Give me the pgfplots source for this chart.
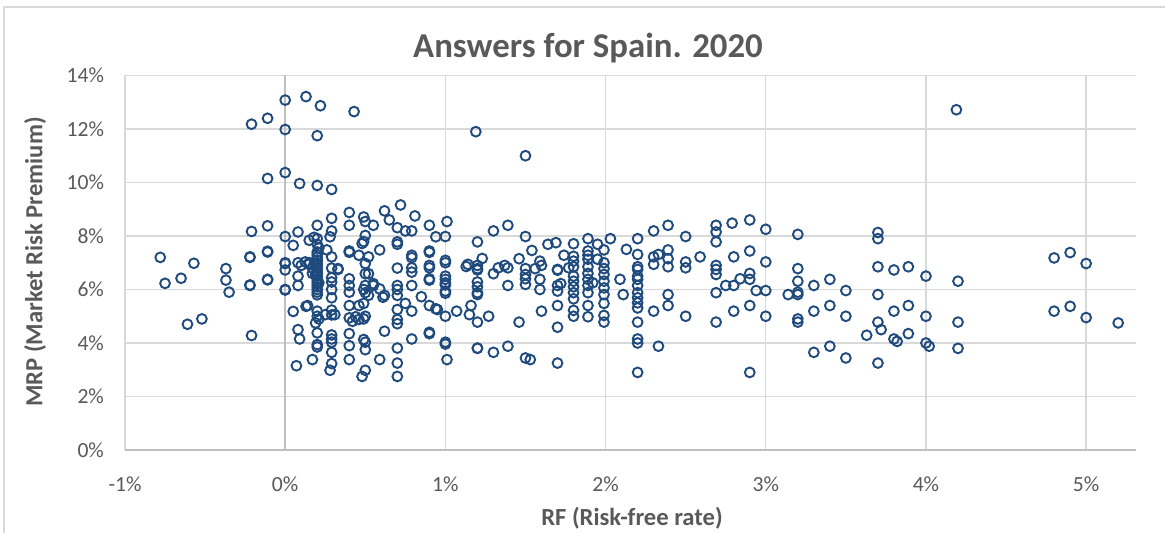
\documentclass[border=0pt]{standalone}
\usepackage{fontspec}
\setmainfont{Carlito}
\usepackage{pgfplots}
\pgfplotsset{compat=1.18}
\definecolor{mk}{HTML}{1F4A7E}
\definecolor{txt}{HTML}{595959}
\definecolor{grd}{HTML}{D9D9D9}
\definecolor{axl}{HTML}{BFBFBF}
\begin{document}
\begin{tikzpicture}
\begin{axis}[
  at={(62.5pt,41.5pt)}, anchor=south west,
  scale only axis, width=505.4pt, height=187.25pt,
  xmin=-1, xmax=5.31, ymin=0, ymax=14,
  xtick={-1,0,1,2,3,4,5},
  xticklabels={{-1\%},{0\%},{1\%},{2\%},{3\%},{4\%},{5\%}},
  ytick={0,2,4,6,8,10,12,14},
  yticklabels={{0\%},{2\%},{4\%},{6\%},{8\%},{10\%},{12\%},{14\%}},
  xmajorgrids, ymajorgrids,
  grid style={grd, line width=0.7pt},
  axis line style={draw=none},
  major tick length=0pt,
  ticklabel style={font=\fontsize{10.8}{12}\selectfont, text=txt},
  xticklabel style={yshift=-10pt},
  yticklabel style={xshift=-7pt},
  clip=false,
]
\draw[axl, line width=0.8pt] (axis cs:-1,0) -- (axis cs:5.31,0);
\draw[axl, line width=0.8pt] (axis cs:0,0) -- (axis cs:0,14);
\addplot[only marks, mark=o, mark size=2.45pt, mk, line width=0.95pt] table {
x y
-0.78 7.2
-0.75 6.23
-0.65 6.42
-0.57 6.98
-0.61 4.7
-0.52 4.9
-0.37 6.78
-0.37 6.35
-0.35 5.9
-0.22 7.2
-0.22 7.22
-0.22 6.15
-0.22 6.17
-0.21 8.17
-0.21 4.28
-0.21 12.18
-0.11 12.4
-0.11 10.15
-0.11 8.38
-0.11 7.4
-0.11 7.43
-0.11 6.36
-0.11 6.38
0.0 13.08
0.0 11.98
0.0 10.37
0.0 7.98
0.0 7.0
0.0 6.97
0.0 6.73
0.0 6.0
0.0 5.98
0.05 7.65
0.05 5.18
0.08 8.15
0.08 7.0
0.08 6.5
0.08 6.15
0.08 4.5
0.09 4.15
0.09 9.96
0.07 3.15
0.1 6.9
0.125 7.03
0.13 13.21
0.13 5.37
0.15 7.84
0.15 7.0
0.15 6.95
0.14 5.4
0.17 3.38
0.17 6.8
0.17 6.6
0.18 7.95
0.22 12.87
0.2 11.75
0.2 9.89
0.2 8.4
0.2 7.9
0.2 7.69
0.2 7.4
0.2 7.3
0.2 7.2
0.2 7.1
0.2 7.0
0.2 6.9
0.2 6.8
0.2 6.7
0.2 6.6
0.2 6.5
0.2 6.4
0.2 6.3
0.2 6.2
0.2 6.1
0.2 6.0
0.2 5.9
0.2 5.8
0.19 6.55
0.21 6.25
0.19 6.95
0.21 7.55
0.2 5.19
0.2 5.0
0.21 4.9
0.19 4.75
0.2 4.38
0.2 3.94
0.2 3.85
0.25 5.06
0.26 7.48
0.28 7.97
0.29 9.74
0.29 8.66
0.29 8.19
0.29 7.22
0.29 6.8
0.29 6.44
0.29 6.28
0.29 6.0
0.29 5.69
0.29 5.23
0.29 5.05
0.29 4.3
0.29 4.15
0.29 4.03
0.29 3.65
0.29 3.23
0.28 2.98
0.31 5.06
0.33 6.78
0.33 6.75
0.4 8.88
0.4 8.4
0.4 7.44
0.4 7.39
0.4 6.4
0.4 6.15
0.4 5.9
0.4 5.4
0.4 4.94
0.4 4.35
0.4 3.9
0.4 3.38
0.42 4.81
0.43 12.65
0.44 4.98
0.46 7.28
0.46 5.4
0.46 4.88
0.48 7.72
0.48 2.75
0.49 8.71
0.49 7.79
0.49 6.0
0.49 5.48
0.49 4.9
0.49 4.13
0.5 8.54
0.5 8.02
0.5 6.97
0.5 6.59
0.5 6.15
0.5 5.88
0.5 5.0
0.5 4.03
0.5 3.75
0.5 2.98
0.52 7.22
0.52 6.59
0.52 5.78
0.55 8.4
0.55 6.15
0.55 6.22
0.59 7.48
0.59 6.02
0.59 3.38
0.61 5.71
0.62 8.94
0.62 5.78
0.62 4.44
0.65 8.6
0.7 8.31
0.7 7.78
0.7 7.69
0.7 6.8
0.7 6.15
0.7 6.0
0.7 5.78
0.7 5.25
0.7 4.88
0.7 4.72
0.7 3.81
0.7 3.25
0.7 2.75
0.72 9.16
0.75 8.19
0.75 5.48
0.79 8.19
0.81 8.75
0.79 7.28
0.79 7.19
0.79 6.81
0.79 6.65
0.79 6.15
0.79 5.19
0.79 4.15
0.85 5.73
0.9 8.4
0.9 7.44
0.9 7.39
0.9 6.9
0.9 6.81
0.9 6.4
0.9 6.35
0.9 5.4
0.9 4.4
0.9 4.35
0.94 7.97
0.94 5.28
0.95 5.25
1.01 8.54
1.0 7.98
1.0 7.09
1.0 7.0
1.0 6.5
1.0 6.38
1.0 6.25
1.0 6.17
1.0 5.94
1.0 5.86
1.0 5.0
1.0 4.03
1.0 3.96
1.01 3.38
1.07 5.19
1.13 6.86
1.14 6.94
1.15 5.06
1.16 5.4
1.19 11.9
1.2 7.78
1.2 6.9
1.2 6.78
1.2 6.73
1.2 6.28
1.2 6.1
1.2 5.88
1.2 5.81
1.2 4.78
1.2 3.81
1.2 3.8
1.23 7.16
1.27 5.0
1.3 8.19
1.3 6.59
1.3 3.65
1.33 6.81
1.37 6.9
1.39 8.4
1.39 6.81
1.39 6.15
1.39 3.88
1.46 7.15
1.46 4.78
1.5 11.0
1.5 7.98
1.5 6.78
1.5 6.56
1.5 6.4
1.5 6.19
1.5 3.44
1.53 3.38
1.54 7.46
1.56 6.78
1.59 7.06
1.6 6.9
1.59 6.38
1.59 6.0
1.6 5.19
1.64 7.69
1.69 7.75
1.7 6.75
1.7 6.72
1.7 6.15
1.7 5.94
1.7 5.4
1.7 4.59
1.7 3.25
1.72 6.22
1.74 7.28
1.8 7.71
1.8 7.24
1.8 7.06
1.8 6.85
1.8 6.5
1.8 6.31
1.8 6.1
1.8 5.88
1.8 5.65
1.8 5.22
1.8 5.0
1.77 6.81
1.89 7.9
1.89 7.44
1.89 7.28
1.89 7.13
1.89 6.85
1.89 6.6
1.89 6.38
1.89 6.15
1.89 5.88
1.89 5.4
1.89 4.98
1.92 6.25
1.95 7.69
1.95 7.13
1.99 7.48
1.99 7.0
1.99 6.78
1.99 6.56
1.99 6.31
1.99 6.06
1.99 5.81
1.99 5.48
1.99 5.03
1.99 4.78
2.03 7.9
2.09 6.38
2.11 5.81
2.13 7.5
2.2 7.9
2.2 7.31
2.2 6.85
2.2 6.75
2.2 6.5
2.2 6.38
2.2 6.15
2.2 5.88
2.2 5.69
2.2 5.5
2.2 5.31
2.2 4.78
2.2 4.15
2.2 4.0
2.2 2.9
2.3 8.19
2.3 7.22
2.33 7.31
2.3 6.94
2.3 5.19
2.33 3.88
2.39 8.4
2.39 7.48
2.39 7.15
2.39 6.85
2.39 5.81
2.39 5.4
2.5 7.98
2.5 7.03
2.5 6.81
2.5 5.0
2.59 7.22
2.69 8.4
2.69 8.15
2.69 7.78
2.69 6.9
2.69 6.75
2.69 6.56
2.69 5.88
2.69 4.78
2.75 6.15
2.79 8.48
2.8 7.22
2.8 6.15
2.8 5.19
2.84 6.4
2.9 8.6
2.9 7.44
2.9 6.6
2.9 6.38
2.9 5.4
2.9 2.9
2.94 5.96
3.0 8.25
3.0 7.03
3.0 5.96
3.0 5.0
3.14 5.81
3.2 8.06
3.2 6.78
3.2 6.31
3.2 5.9
3.2 5.81
3.2 4.9
3.2 4.78
3.3 6.15
3.3 5.19
3.3 3.65
3.4 6.38
3.4 5.4
3.4 3.88
3.5 5.96
3.5 5.0
3.5 3.44
3.63 4.29
3.7 8.13
3.7 7.9
3.7 6.85
3.7 5.81
3.7 4.78
3.72 4.5
3.7 3.25
3.8 6.73
3.8 5.19
3.8 4.15
3.82 4.06
3.89 6.85
3.89 5.4
3.89 4.35
4.0 6.5
4.0 5.0
4.0 4.0
4.02 3.88
4.19 12.72
4.2 6.31
4.2 4.78
4.2 3.8
4.8 7.18
4.9 7.38
5.0 6.97
4.8 5.19
4.9 5.37
5.0 4.95
5.2 4.75
};
\end{axis}
\draw[grd, line width=0.8pt] (2pt,0pt) -- (2pt,263pt) -- (582.5pt,263pt);
\node[font=\bfseries\fontsize{17.4}{20}\selectfont, text=txt] at (294pt,242.5pt) {Answers for Spain. 2020};
\node[font=\bfseries\fontsize{12.3}{14}\selectfont, text=txt] at (316pt,7.5pt) {RF (Risk-free rate)};
\node[font=\bfseries\fontsize{12.3}{14}\selectfont, text=txt, rotate=90] at (17.5pt,135.5pt) {MRP (Market Risk Premium)};
\pgfresetboundingbox
\useasboundingbox (0,0) rectangle (582.5pt,266.5pt);
\end{tikzpicture}
\end{document}
